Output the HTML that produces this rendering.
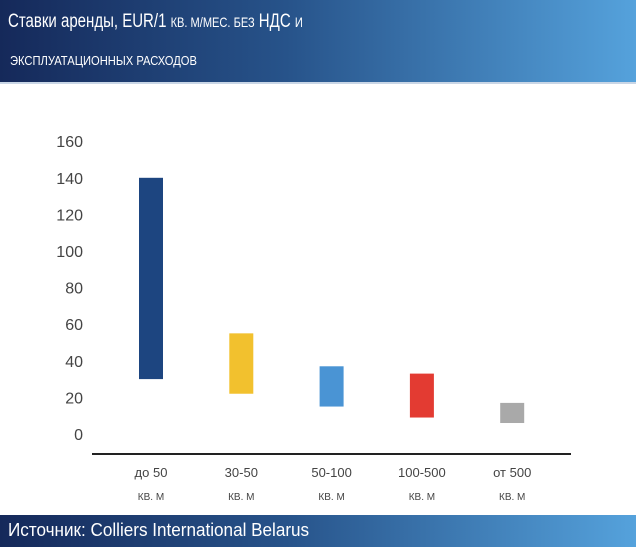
<!DOCTYPE html>
<html><head><meta charset="utf-8"><style>
body{margin:0;width:636px;height:547px;background:#fff;position:relative;overflow:hidden;font-family:"Liberation Sans","DejaVu Sans",sans-serif}
.hdr{position:absolute;left:0;top:0;width:636px;height:82px;background:linear-gradient(90deg,#15295a 0%,#27538a 45%,#55a2dc 100%);border-bottom:2px solid #c9d6e6}
.ftr{position:absolute;left:0;top:515px;width:636px;height:32px;background:linear-gradient(90deg,#15295a 0%,#27538a 45%,#55a2dc 100%)}
.t{position:absolute;color:#fff;white-space:nowrap;transform-origin:0 0}
</style></head><body>
<div class="hdr">
<div class="t" style="left:8px;top:11px;font-size:19px;transform:scaleX(0.79)">Ставки аренды, EUR/1 <span style="font-size:14px">КВ. М/МЕС. БЕЗ</span> НДС <span style="font-size:14px">И</span></div>
<div class="t" style="left:10px;top:53px;font-size:13px;transform:scaleX(0.86)">ЭКСПЛУАТАЦИОННЫХ РАСХОДОВ</div>
</div>
<svg id="chart" width="636" height="547" style="position:absolute;left:0;top:0"></svg>
<div class="ftr">
<div class="t" style="left:8px;top:5px;font-size:18px;transform:scaleX(0.95)">Источник: Colliers International Belarus</div>
</div>
<script>
const categories=["до 50","30-50","50-100","100-500","от 500"];
const lows=[30,22,15,9,6];
const highs=[140,55,37,33,17];
const colors=["#1d4580","#f2c12e","#4a94d4","#e33b32","#a9a9a9"];
const ticks=[0,20,40,60,80,100,120,140,160];
const NS="http://www.w3.org/2000/svg";
const svg=document.getElementById('chart');
function y(v){return 434-v*1.83;}
function x(i){return 151+i*90.3;}
function mk(t,a){const e=document.createElementNS(NS,t);for(const k in a)e.setAttribute(k,a[k]);svg.appendChild(e);return e;}
ticks.forEach(v=>{const e=mk('text',{x:83,y:y(v)+6,'text-anchor':'end','font-size':'16',fill:'#444','font-family':'Liberation Sans, sans-serif'});e.textContent=v;

});
categories.forEach((c,i)=>{
const r=mk('rect',{x:x(i)-12,y:y(highs[i]),width:24,height:y(lows[i])-y(highs[i]),fill:colors[i]});


const t=mk('text',{x:x(i),y:477,'text-anchor':'middle','font-size':'13',fill:'#444','font-family':'Liberation Sans, sans-serif'});t.textContent=c;


const t2=mk('text',{x:x(i),y:500,'text-anchor':'middle','font-size':'10',fill:'#444','font-family':'Liberation Sans, sans-serif'});t2.textContent='КВ. М';


});
const ax=mk('line',{x1:92,y1:454,x2:571,y2:454,stroke:'#222','stroke-width':2});


</script>
</body></html>
